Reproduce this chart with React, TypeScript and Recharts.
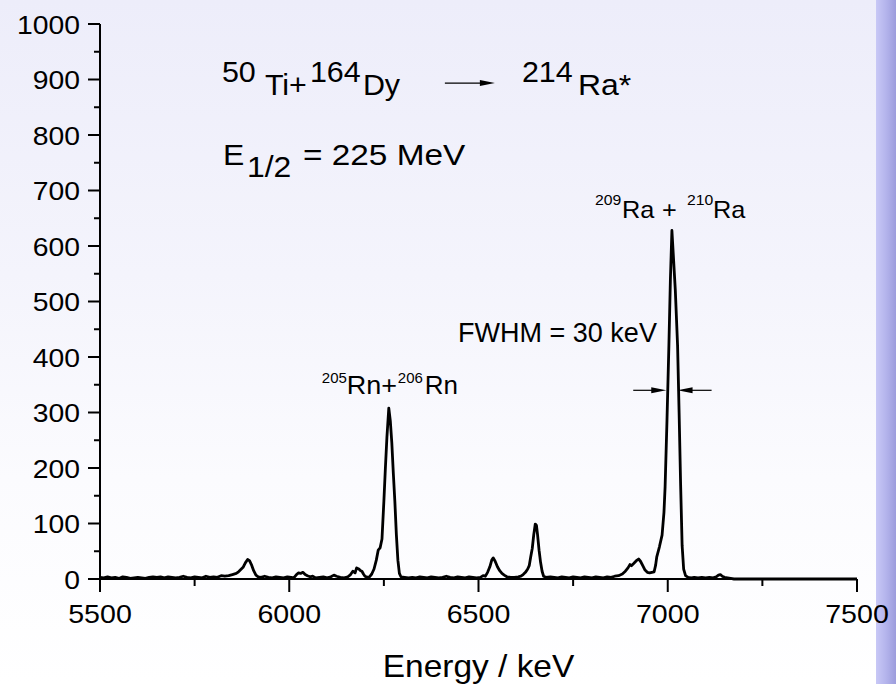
import React from "react";
import { LineChart, Line, XAxis, YAxis, ReferenceDot } from "recharts";

// alpha spectrum, 50Ti + 164Dy at E1/2 = 225 MeV
const energyKeV = [
  5500, 5510, 5520, 5530, 5540, 5550, 5560, 5570, 5580, 5590,
  5600, 5610, 5620, 5630, 5640, 5650, 5660, 5670, 5680, 5690,
  5700, 5710, 5720, 5730, 5740, 5750, 5760, 5770, 5780, 5790,
  5800, 5810, 5820, 5830, 5840, 5850, 5860, 5866, 5872, 5878,
  5884, 5890, 5895, 5900, 5906, 5912, 5918, 5925, 5935, 5945,
  5955, 5965, 5975, 5985, 5995, 6005, 6012, 6018, 6024, 6030,
  6036, 6042, 6048, 6055, 6062, 6070, 6080, 6090, 6100, 6110,
  6118, 6125, 6135, 6145, 6155, 6162, 6168, 6174, 6178, 6184,
  6188, 6192, 6196, 6200, 6206, 6212, 6218, 6224, 6230, 6235,
  6240, 6245, 6250, 6254, 6258, 6263, 6267, 6271, 6275, 6279,
  6283, 6287, 6291, 6295, 6305, 6315, 6325, 6335, 6345, 6355,
  6365, 6375, 6385, 6395, 6405, 6415, 6425, 6435, 6445, 6455,
  6465, 6475, 6485, 6495, 6505, 6512, 6518, 6524, 6530, 6535,
  6539, 6544, 6550, 6556, 6562, 6568, 6575, 6585, 6595, 6605,
  6612, 6618, 6624, 6630, 6634, 6638, 6642, 6646, 6650, 6653,
  6656, 6660, 6664, 6668, 6672, 6678, 6690, 6700, 6710, 6720,
  6730, 6740, 6750, 6760, 6770, 6780, 6790, 6800, 6810, 6820,
  6830, 6840, 6850, 6860, 6870, 6880, 6888, 6895, 6900, 6904,
  6910, 6917, 6923, 6928, 6934, 6940, 6946, 6952, 6958, 6964,
  6968, 6971, 6978, 6985, 6990, 6993, 6998, 7003, 7007, 7011,
  7015, 7020, 7026, 7030, 7034, 7038, 7042, 7047, 7054, 7062,
  7070, 7080, 7090, 7100, 7110, 7120, 7128, 7134, 7139, 7144,
  7150, 7158, 7166, 7175, 7500,
];

const counts = [
  3, 2, 4, 2, 3, 1, 4, 3, 1, 2,
  3, 2, 1, 3, 4, 3, 4, 2, 4, 3,
  2, 3, 5, 3, 2, 4, 3, 2, 5, 3,
  4, 3, 6, 5, 6, 8, 10, 13, 17, 21,
  29, 35, 33, 26, 15, 7, 4, 3, 5, 3,
  2, 4, 3, 2, 4, 3, 2, 7, 11, 10,
  12, 8, 6, 4, 5, 2, 3, 4, 2, 4,
  7, 5, 3, 2, 4, 8, 14, 11, 20, 18,
  15, 14, 9, 5, 3, 4, 9, 18, 34, 52,
  56, 72, 140, 200, 255, 308, 285, 245, 190, 140,
  80, 34, 10, 4, 3, 2, 3, 2, 4, 3,
  2, 4, 3, 2, 3, 5, 3, 2, 4, 3,
  2, 4, 3, 2, 3, 6, 5, 12, 22, 34,
  38, 32, 22, 15, 10, 7, 4, 3, 3, 4,
  5, 8, 12, 18, 24, 40, 55, 80, 99, 97,
  80, 52, 30, 14, 5, 3, 4, 3, 2, 4,
  3, 2, 4, 3, 2, 4, 3, 2, 4, 3,
  2, 4, 3, 5, 6, 9, 14, 20, 26, 24,
  28, 33, 36, 32, 24, 16, 12, 11, 12, 13,
  25, 40, 58, 79, 120, 166, 286, 420, 540, 628,
  580, 520, 420, 300, 170, 60, 18, 6, 3, 2,
  3, 2, 3, 2, 3, 2, 4, 7, 8, 5,
  3, 2, 1, 0, 0,
];

const xTicks = [5500, 5750, 6000, 6250, 6500, 6750, 7000, 7250, 7500];
const yTicks = [
  0, 50, 100, 150, 200, 250, 300, 350, 400, 450, 500,
  550, 600, 650, 700, 750, 800, 850, 900, 950, 1000,
];

const raPeakKeV = 7011;
const rnPeakKeV = 6263;
const fwhmKeV = 30;

const FONT = '"Liberation Sans", Arial, Helvetica, sans-serif';

const data = energyKeV.map((e, i) => ({ energy: e, counts: counts[i] }));

// text drawn a little wider than the font's own metrics
const Txt = ({ x, y, size, anchor = "start", sx = 1.1, children }: any) => (
  <text
    transform={`translate(${x} ${y}) scale(${sx} 1)`}
    fontSize={size}
    fontFamily={FONT}
    textAnchor={anchor}
    fill="#000"
  >
    {children}
  </text>
);

const Arrow = ({ from, to, y }: any) => {
  const dir = to > from ? 1 : -1;
  return (
    <g>
      <line x1={from} y1={y} x2={to - dir * 12} y2={y} stroke="#000" strokeWidth={1.2} />
      <polygon
        points={`${to},${y} ${to - dir * 15},${y - 3} ${to - dir * 15},${y + 3}`}
        fill="#000"
      />
    </g>
  );
};

const BottomTick = ({ x, y, payload }: any) => {
  const major = payload.value % 500 === 0;
  return (
    <g>
      <line x1={x} y1={y} x2={x} y2={y + (major ? 13 : 7)} stroke="#000" strokeWidth={2} />
      {major && (
        <Txt x={x} y={y + 44} size={26} anchor="middle" sx={1.1}>
          {payload.value}
        </Txt>
      )}
    </g>
  );
};

const TopTick = ({ x, y, payload }: any) => {
  const major = payload.value % 500 === 0;
  return <line x1={x} y1={y} x2={x} y2={y + (major ? 11 : 6)} stroke="#000" strokeWidth={2} />;
};

const LeftTick = ({ x, y, payload }: any) => {
  const major = payload.value % 100 === 0;
  return (
    <g>
      <line x1={x} y1={y} x2={x - (major ? 12 : 6)} y2={y} stroke="#000" strokeWidth={2} />
      {major && (
        <Txt x={x - 20} y={y + 9.5} size={26} anchor="end" sx={1.09}>
          {payload.value}
        </Txt>
      )}
    </g>
  );
};

const RightTick = ({ x, y, payload }: any) => {
  const major = payload.value % 100 === 0;
  return <line x1={x} y1={y} x2={x - (major ? 12 : 6)} y2={y} stroke="#000" strokeWidth={2} />;
};

const AxisTitle = (props: any) => {
  const vb = props.viewBox || { x: 100, y: 579, width: 757 };
  return (
    <Txt x={vb.x + vb.width / 2} y={vb.y + 98} size={31} anchor="middle" sx={1.08}>
      Energy / keV
    </Txt>
  );
};

const ReactionLabel = ({ cx, cy }: any) => (
  <g>
    <Txt x={cx} y={cy - 13} size={29} sx={1.05}>50</Txt>
    <Txt x={cx + 43} y={cy} size={29} sx={1.05}>Ti+</Txt>
    <Txt x={cx + 88} y={cy - 13} size={29} sx={1.05}>164</Txt>
    <Txt x={cx + 141} y={cy} size={29} sx={1.05}>Dy</Txt>
    <Arrow from={cx + 223} to={cx + 273} y={cy - 12} />
    <Txt x={cx + 300} y={cy - 13} size={29} sx={1.05}>214</Txt>
    <Txt x={cx + 356} y={cy} size={29} sx={1.1}>Ra*</Txt>
  </g>
);

const EnergyLabel = ({ cx, cy }: any) => (
  <g>
    <Txt x={cx} y={cy} size={29} sx={1.1}>E</Txt>
    <Txt x={cx + 24} y={cy + 12} size={29} sx={1.1}>1/2</Txt>
    <Txt x={cx + 80} y={cy} size={29} sx={1.15}>= 225 MeV</Txt>
  </g>
);

const FwhmLabel = ({ cx, cy }: any) => (
  <Txt x={cx} y={cy} size={27} sx={1.0}>
    FWHM = {fwhmKeV} keV
  </Txt>
);

const RnLabel = ({ cx, cy }: any) => (
  <g>
    <Txt x={cx - 67} y={cy - 11} size={15} sx={1.0}>205</Txt>
    <Txt x={cx - 42} y={cy} size={25} sx={1.08}>Rn+</Txt>
    <Txt x={cx + 9} y={cy - 11} size={15} sx={1.0}>206</Txt>
    <Txt x={cx + 36} y={cy} size={25} sx={1.04}>Rn</Txt>
  </g>
);

const RaLabel = ({ cx, cy }: any) => (
  <g>
    <Txt x={cx - 77} y={cy - 13} size={15} sx={1.05}>209</Txt>
    <Txt x={cx - 50} y={cy} size={23} sx={1.1}>Ra</Txt>
    <Txt x={cx - 10} y={cy} size={23} sx={1.1}>+</Txt>
    <Txt x={cx + 15} y={cy - 13} size={15} sx={1.05}>210</Txt>
    <Txt x={cx + 41} y={cy} size={23} sx={1.1}>Ra</Txt>
  </g>
);

const App = () => {
  return (
    <div
      style={{
        position: "absolute",
        left: 0,
        top: 0,
        width: 896,
        height: 684,
        background:
          "linear-gradient(to bottom, #ededfa 0%, #f4f4fc 40%, #fbfbfe 70%, #ffffff 100%)",
        overflow: "hidden",
      }}
    >
      <div
        style={{
          position: "absolute",
          left: 876,
          top: 0,
          width: 20,
          height: 684,
          background: "linear-gradient(to right, #c8c8f6 0%, #b4b4ec 50%, #9c9cdc 100%)",
        }}
      />
      <div style={{ position: "absolute", left: 0, top: 0 }}>
        <LineChart
          width={896}
          height={684}
          data={data}
          margin={{ top: 24, right: 39, bottom: 0, left: 0 }}
        >
          <XAxis
            dataKey="energy"
            type="number"
            domain={[5500, 7500]}
            ticks={xTicks}
            interval={0}
            height={105}
            tickSize={0}
            tickMargin={0}
            tickLine={false}
            tick={<BottomTick />}
            axisLine={{ stroke: "#000", strokeWidth: 2 }}
            label={<AxisTitle />}
          />
          <XAxis
            xAxisId="top"
            orientation="top"
            dataKey="energy"
            type="number"
            domain={[5500, 7500]}
            ticks={xTicks}
            interval={0}
            height={0}
            tickSize={0}
            tickMargin={0}
            tickLine={false}
            tick={<TopTick />}
            axisLine={{ stroke: "#000", strokeWidth: 2 }}
          />
          <YAxis
            type="number"
            domain={[0, 1000]}
            ticks={yTicks}
            interval={0}
            width={100}
            tickSize={0}
            tickMargin={0}
            tickLine={false}
            tick={<LeftTick />}
            axisLine={{ stroke: "#000", strokeWidth: 2 }}
          />
          <YAxis
            yAxisId="right"
            orientation="right"
            type="number"
            domain={[0, 1000]}
            ticks={yTicks}
            interval={0}
            width={0}
            tickSize={0}
            tickMargin={0}
            tickLine={false}
            tick={<RightTick />}
            axisLine={{ stroke: "#000", strokeWidth: 2 }}
          />
          <Line
            type="linear"
            dataKey="counts"
            stroke="#000"
            strokeWidth={2.8}
            strokeLinejoin="round"
            dot={false}
            activeDot={false}
            isAnimationActive={false}
          />
          <ReferenceDot x={5822} y={872} r={1} shape={(p: any) => <ReactionLabel cx={p.cx} cy={p.cy} />} />
          <ReferenceDot x={5825} y={746} r={1} shape={(p: any) => <EnergyLabel cx={p.cx} cy={p.cy} />} />
          <ReferenceDot x={6446} y={427} r={1} shape={(p: any) => <FwhmLabel cx={p.cx} cy={p.cy} />} />
          <ReferenceDot x={rnPeakKeV} y={333} r={1} shape={(p: any) => <RnLabel cx={p.cx} cy={p.cy} />} />
          <ReferenceDot x={raPeakKeV} y={650} r={1} shape={(p: any) => <RaLabel cx={p.cx} cy={p.cy} />} />
          {/* FWHM markers at the half-height edges of the Ra peak */}
          <ReferenceDot
            x={raPeakKeV - fwhmKeV / 2}
            y={340}
            r={1}
            shape={(p: any) => <Arrow from={p.cx - 33} to={p.cx} y={p.cy} />}
          />
          <ReferenceDot
            x={raPeakKeV + fwhmKeV / 2}
            y={340}
            r={1}
            shape={(p: any) => <Arrow from={p.cx + 34} to={p.cx} y={p.cy} />}
          />
        </LineChart>
      </div>
    </div>
  );
};

export default App;
